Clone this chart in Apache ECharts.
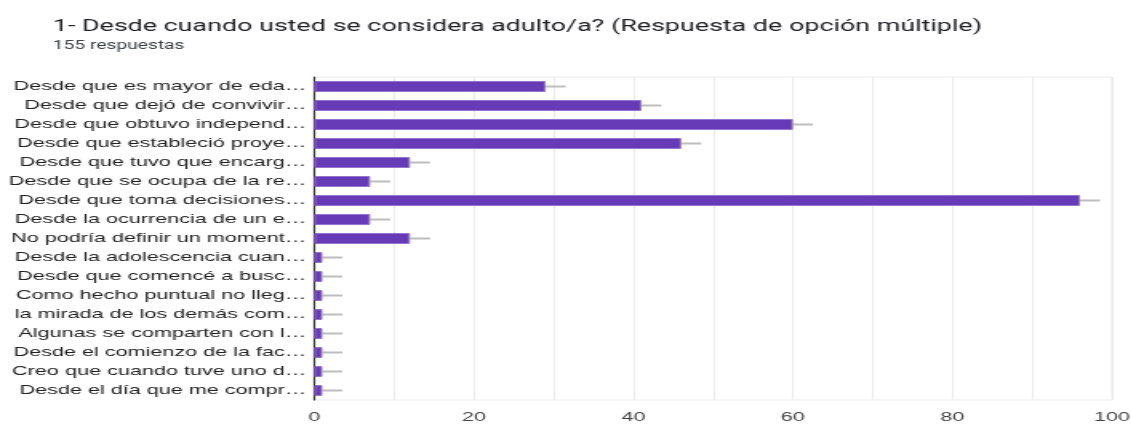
<!DOCTYPE html>
<html>
<head>
<meta charset="utf-8">
<script src="https://cdn.jsdelivr.net/npm/echarts@6/dist/echarts.min.js"></script>
<style>
  html, body { margin: 0; padding: 0; background: #fff; overflow: hidden; }
  #wrap { width: 1131px; height: 424px; overflow: hidden; }
  /* the reference picture is stretched sideways, so draw narrow and stretch */
  #chart { width: 707px; height: 424px; transform: scaleX(1.6); transform-origin: 0 0; }
</style>
</head>
<body>
<div id="wrap"><div id="chart"></div></div>
<script>
const titleText = "1- Desde cuando usted se considera adulto/a? (Respuesta de opción múltiple)";
const subtitleText = "155 respuestas";

const categories = [
  "Desde que es mayor de eda…",
  "Desde que dejó de convivir…",
  "Desde que obtuvo independ…",
  "Desde que estableció proye…",
  "Desde que tuvo que encarg…",
  "Desde que se ocupa de la re…",
  "Desde que toma decisiones…",
  "Desde la ocurrencia de un e…",
  "No podría definir un moment…",
  "Desde la adolescencia cuan…",
  "Desde que comencé a busc…",
  "Como hecho puntual no lleg…",
  "la mirada de los demás com…",
  "Algunas se comparten con l…",
  "Desde el comienzo de la fac…",
  "Creo que cuando tuve uno d…",
  "Desde el día que me compr…"
];
const counts = [29, 41, 60, 46, 12, 7, 96, 7, 12, 1, 1, 1, 1, 1, 1, 1, 1];
const errorMargin = [2.5, 2.5, 2.5, 2.5, 2.5, 2.5, 2.5, 2.5, 2.5, 2.5, 2.5, 2.5, 2.5, 2.5, 2.5, 2.5, 2.5];
const xTicks = [0, 20, 40, 60, 80, 100];

var myChart = echarts.init(document.getElementById("chart"));

myChart.setOption({
  animation: false,
  title: {
    text: titleText,
    subtext: subtitleText,
    left: 28,
    top: 13,
    itemGap: 5,
    textStyle: { fontFamily: "Roboto", fontSize: 16.8, fontWeight: "normal", color: "#202124" },
    subtextStyle: { fontFamily: "Roboto", fontSize: 12, color: "#3c4043" }
  },
  grid: {
    left: 196.5,
    right: 12,
    top: 77,
    bottom: 24,
    outerBoundsMode: "none",
    show: true,
    borderColor: "#ebebeb",
    borderWidth: 1
  },
  xAxis: {
    type: "value",
    min: xTicks[0],
    max: xTicks[xTicks.length - 1],
    interval: 20,
    axisLine: { show: false },
    axisTick: { show: false },
    axisLabel: { fontFamily: "Liberation Sans", fontSize: 13.5, color: "#444", margin: 10 },
    splitLine: { show: true, lineStyle: { color: "#ebebeb", width: 1 } },
    minorTick: { show: false, splitNumber: 2 },
    minorSplitLine: { show: true, lineStyle: { color: "#ebebeb", width: 1 } }
  },
  yAxis: {
    type: "category",
    inverse: true,
    data: categories,
    axisTick: { show: false },
    axisLine: { show: true, onZero: false, lineStyle: { color: "#333", width: 1.2 } },
    axisLabel: { fontFamily: "Liberation Sans", fontSize: 13.5, color: "#222", margin: 5 }
  },
  series: [
    {
      type: "custom",
      z: 1,
      renderItem: function (params, api) {
        var start = api.coord([api.value(1), api.value(0)]);
        var end = api.coord([api.value(2), api.value(0)]);
        return {
          type: "line",
          shape: { x1: start[0], y1: start[1], x2: end[0], y2: end[1] },
          style: { stroke: "#bdbdbd", lineWidth: 2 }
        };
      },
      encode: { x: [1, 2], y: 0 },
      data: counts.map((v, i) => [i, v, v + errorMargin[i]])
    },
    {
      type: "bar",
      z: 2,
      data: counts,
      barCategoryGap: "42%",
      itemStyle: { color: "#673ab7", borderColor: "#9575cd", borderWidth: 1 }
    }
  ]
});
</script>
</body>
</html>
